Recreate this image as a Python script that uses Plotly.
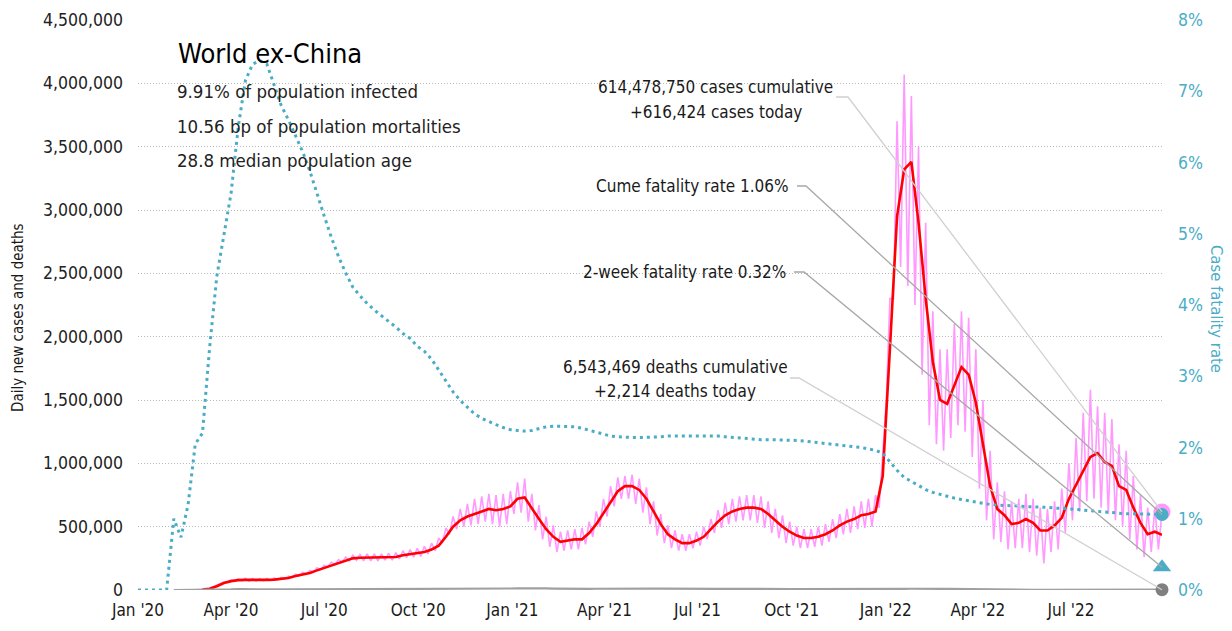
import pandas as pd
import plotly.graph_objects as go

# ---------------- data ----------------
week_start = "2020-01-01"
n_weeks = 144  # weekly samples through 2022-09-28

# 7-day average of daily new cases (thousands); None = not drawn yet
cases_avg_k = [
    None, None, None, None, None, None, None, None, None, 4,
    10, 30, 55, 70, 78, 80, 78, 80, 80, 82,
    88, 95, 110, 120, 135, 155, 175, 195, 215, 235,
    250, 255, 255, 255, 255, 260, 260, 275, 285, 290,
    300, 320, 350, 420, 500, 550, 580, 600, 620, 640,
    630, 640, 660, 720, 730, 640, 560, 480, 420, 380,
    390, 400, 400, 450, 520, 610, 700, 780, 820, 820,
    790, 720, 620, 520, 440, 400, 370, 370, 390, 420,
    480, 540, 590, 620, 640, 650, 650, 640, 600, 550,
    500, 460, 430, 410, 410, 420, 440, 470, 510, 540,
    560, 590, 600, 620, 900, 1900, 2950, 3320, 3380, 2900,
    2300, 1800, 1500, 1470, 1620, 1760, 1700, 1480, 1150, 820,
    640, 590, 520, 530, 560, 530, 470, 470, 510, 570,
    720, 830, 930, 1050, 1080, 1010, 980, 820, 790, 650,
    530, 440, 460, 435,
]

# daily new cases: weekly high and low of the day-to-day swing (thousands)
cases_hi_k = [
    None, None, None, None, None, 0, 0, 1, 2, 6,
    14, 36, 62, 78, 88, 92, 90, 90, 92, 95,
    100, 110, 125, 140, 155, 175, 195, 220, 240, 260,
    275, 280, 285, 285, 285, 290, 295, 310, 320, 330,
    345, 370, 410, 490, 580, 640, 680, 720, 740, 760,
    750, 760, 780, 850, 880, 760, 670, 580, 510, 460,
    470, 480, 490, 540, 620, 720, 820, 890, 900, 910,
    880, 810, 700, 600, 510, 470, 440, 440, 460, 500,
    560, 630, 690, 720, 740, 750, 750, 740, 700, 640,
    590, 540, 500, 480, 480, 500, 520, 560, 600, 640,
    660, 700, 720, 750, 1100, 2300, 3700, 4070, 3900, 3500,
    2900, 2200, 1900, 1900, 2100, 2200, 2150, 1900, 1500, 1100,
    850, 780, 700, 720, 760, 720, 650, 640, 700, 800,
    1000, 1200, 1400, 1580, 1450, 1400, 1350, 1150, 1100, 900,
    750, 650, 650, 616.424,
]
cases_lo_k = [
    None, None, None, None, None, 0, 0, 0, 1, 3,
    8, 25, 50, 65, 72, 72, 70, 70, 72, 75,
    80, 88, 98, 110, 125, 140, 160, 180, 200, 220,
    230, 235, 230, 230, 230, 235, 235, 245, 255, 260,
    265, 285, 310, 370, 440, 480, 500, 510, 520, 540,
    520, 500, 520, 600, 610, 540, 470, 400, 340, 300,
    310, 320, 320, 360, 420, 500, 580, 660, 720, 720,
    680, 610, 520, 430, 370, 330, 310, 310, 330, 350,
    400, 450, 490, 520, 540, 550, 550, 530, 490, 450,
    410, 370, 350, 330, 330, 340, 350, 380, 410, 440,
    450, 480, 490, 500, 650, 1500, 2300, 2550, 2400, 2250,
    1700, 1300, 1150, 1100, 1200, 1300, 1250, 1050, 800, 550,
    400, 380, 320, 330, 330, 300, 270, 210, 300, 320,
    450, 550, 620, 700, 720, 650, 600, 550, 500, 400,
    320, 260, 300, 320,
]

# daily new deaths (thousands)
deaths_k = [
    None, None, None, None, None, 0, 0, 0, 0, 0,
    0.3, 1, 2.5, 4.5, 6.5, 7, 6.5, 6, 5.5, 4.5,
    4.3, 4.2, 4.3, 4.3, 4.4, 4.6, 4.8, 5, 5.3, 5.6,
    5.8, 5.9, 5.8, 5.7, 5.6, 5.5, 5.4, 5.5, 5.6, 5.6,
    5.7, 6, 6.5, 7.3, 8.5, 9.5, 10.5, 11, 11.5, 12,
    12, 12, 12, 13, 14, 14.5, 14, 13, 11.5, 10,
    9, 8.5, 8.5, 9, 10, 11, 12, 13, 13.5, 14,
    13.5, 13, 12, 11, 10, 9, 8, 7.5, 7.5, 7.8,
    8.3, 8.8, 9.3, 9.7, 10, 10, 9.8, 9.5, 9, 8.5,
    8, 7.5, 7, 6.8, 6.8, 6.9, 7, 7.1, 7.1, 7,
    7, 7, 6.8, 6.5, 6.3, 6.5, 7.5, 9, 10, 11,
    11, 10.5, 9.5, 8.5, 7.5, 6.5, 6, 5.5, 4.5, 3.8,
    3.3, 3, 2.5, 2.3, 2.2, 2.1, 2, 1.8, 1.7, 1.8,
    2, 2.2, 2.4, 2.6, 2.7, 2.7, 2.6, 2.5, 2.3, 2.2,
    2.1, 2, 1.9, 2.214,
]

# cumulative case fatality rate (%)
cfr_pct = [
    0, 0, 0, 0, 0, 1.0, 0.74, 1.2, 2.05, 2.2,
    3.4, 4.4, 5.0, 5.57, 6.5, 7.15, 7.38, 7.43, 7.38, 7.08,
    6.8, 6.6, 6.37, 6.15, 5.88, 5.55, 5.25, 4.95, 4.68, 4.45,
    4.25, 4.13, 4.02, 3.93, 3.85, 3.78, 3.69, 3.6, 3.53, 3.42,
    3.35, 3.24, 3.08, 2.93, 2.78, 2.66, 2.56, 2.47, 2.41, 2.36,
    2.32, 2.28, 2.25, 2.24, 2.23, 2.24, 2.27, 2.29, 2.30, 2.30,
    2.30, 2.29, 2.27, 2.24, 2.21, 2.18, 2.16, 2.15, 2.14, 2.14,
    2.14, 2.14, 2.15, 2.15, 2.16, 2.16, 2.16, 2.17, 2.17, 2.17,
    2.17, 2.16, 2.15, 2.14, 2.13, 2.12, 2.12, 2.11, 2.11, 2.11,
    2.10, 2.10, 2.10, 2.09, 2.08, 2.07, 2.06, 2.05, 2.03, 2.02,
    2.01, 2.0, 1.98, 1.96, 1.92, 1.80, 1.68, 1.58, 1.52, 1.46,
    1.41, 1.37, 1.34, 1.31, 1.29, 1.27, 1.25, 1.23, 1.21, 1.20,
    1.19, 1.19, 1.18, 1.18, 1.17, 1.17, 1.16, 1.16, 1.15, 1.15,
    1.14, 1.13, 1.12, 1.11, 1.10, 1.09, 1.08, 1.08, 1.07, 1.07,
    1.07, 1.06, 1.06, 1.06,
]

two_week_cfr_pct = 0.32
cases_today = 616424
deaths_today = 2214

tick_dates = ["2020-01-01", "2020-04-01", "2020-07-01", "2020-10-01",
              "2021-01-01", "2021-04-01", "2021-07-01", "2021-10-01",
              "2022-01-01", "2022-04-01", "2022-07-01"]
tick_labels = ["Jan '20", "Apr '20", "Jul '20", "Oct '20", "Jan '21", "Apr '21",
               "Jul '21", "Oct '21", "Jan '22", "Apr '22", "Jul '22"]

title_text = "World ex-China"
info_lines = ["9.91% of population infected",
              "10.56 bp of population mortalities",
              "28.8 median population age"]

# ---------------- build ----------------
dates = pd.date_range(week_start, periods=n_weeks, freq="7D")
half = pd.Timedelta(hours=84)

pink_x, pink_y = [], []
for i, d in enumerate(dates):
    if cases_hi_k[i] is None:
        continue
    if i > 0 and cases_lo_k[i] is not None and cases_hi_k[i - 1] is not None:
        pink_x.append(d - half)
        pink_y.append(cases_lo_k[i] * 1000)
    pink_x.append(d)
    pink_y.append(cases_hi_k[i] * 1000)


def scale(vals, k=1000):
    return [None if v is None else v * k for v in vals]


FONT = "DejaVu Sans Condensed, Liberation Sans Narrow, Arial Narrow, sans-serif"
TEAL = "#4bacc6"
PINK = "#ff99ff"
INK = "#1a1a1a"

# page body has an 8px margin: figure is sized to fit the 1232x631 window
OFF = 8
W, H = 1232 - OFF, 631 - OFF
PL, PR, PT, PB = 138, 1162, 20, 590          # plot box in screen pixels
L, R, T, B = PL - OFF, W + OFF - PR, PT - OFF, H + OFF - PB
PW, PH = PR - PL, PB - PT
YMAX, Y2MAX = 4_500_000, 8


def px(x):
    return (x - PL) / PW


def py(y):
    return (PB - y) / PH


def ydat(y):
    return py(y) * YMAX


def y2dat(y):
    return py(y) * Y2MAX


fig = go.Figure()
fig.add_trace(go.Scatter(x=pink_x, y=pink_y, mode="lines",
                         line=dict(color=PINK, width=1.6), hoverinfo="skip"))
fig.add_trace(go.Scatter(x=dates, y=scale(cases_avg_k), mode="lines",
                         line=dict(color="#ff0000", width=2.6), hoverinfo="skip"))
fig.add_trace(go.Scatter(x=dates, y=scale(deaths_k), mode="lines",
                         line=dict(color="#a0a0a0", width=2.2), hoverinfo="skip"))
fig.add_trace(go.Scatter(x=dates, y=cfr_pct, mode="lines", yaxis="y2",
                         line=dict(color=TEAL, width=3, dash="3px,4px"), hoverinfo="skip"))

last = dates[-1]
fig.add_trace(go.Scatter(x=[last], y=[cases_today], mode="markers", cliponaxis=False,
                         marker=dict(color=PINK, size=17, line=dict(width=0))))
fig.add_trace(go.Scatter(x=[last], y=[deaths_today], mode="markers", cliponaxis=False,
                         marker=dict(color="#808080", size=13, line=dict(width=0))))
fig.add_trace(go.Scatter(x=[last], y=[cfr_pct[-1]], mode="markers", yaxis="y2", cliponaxis=False,
                         marker=dict(color=TEAL, size=13, line=dict(width=0))))
fig.add_trace(go.Scatter(x=[last], y=[two_week_cfr_pct], mode="markers", yaxis="y2", cliponaxis=False,
                         marker=dict(color=TEAL, size=16, symbol="triangle-up", line=dict(width=0))))

# leader lines
shapes = []


def leader(x0, x1, ystart, yend, yref, color):
    shapes.append(dict(type="path", xref="paper", yref=yref, layer="above",
                       path=f"M {px(x0)},{ystart} L {px(x1)},{ystart} L 1,{yend}",
                       line=dict(color=color, width=1.3)))


leader(836, 848, ydat(97), cases_today, "y", "#d0d0d0")
leader(797, 806, y2dat(186), cfr_pct[-1], "y2", "#a8a8a8")
leader(794, 804, y2dat(272), two_week_cfr_pct, "y2", "#a8a8a8")
leader(790, 799, ydat(378), deaths_today, "y", "#d0d0d0")

ann = []


def text(x, y, s, size, anchor="left", color=INK, angle=0):
    ann.append(dict(x=px(x), y=py(y), xref="paper", yref="paper", text=s, showarrow=False,
                    xanchor=anchor, yanchor="middle", textangle=angle,
                    font=dict(family=FONT, size=size, color=color)))


text(176, 54, title_text, 27, color="#000000")
for yy, s in zip([92, 126, 160], info_lines):
    text(175, yy, s, 18.5, color="#222222")

text(715, 87, "614,478,750 cases cumulative", 17, "center")
text(716, 112, "+616,424 cases today", 17, "center")
text(791, 186, "Cume fatality rate 1.06%", 17, "right")
text(788, 272, "2-week fatality rate 0.32%", 17, "right")
text(675, 367, "6,543,469 deaths cumulative", 17, "center")
text(675, 391, "+2,214 deaths today", 17, "center")

text(18, 318, "Daily new cases and deaths", 15, "center", angle=-90)
text(1217, 309, "Case fatality rate", 16.5, "center", color=TEAL, angle=90)

fig.update_layout(
    width=W, height=H,
    margin=dict(l=L, r=R, t=T, b=B, pad=0),
    paper_bgcolor="white", plot_bgcolor="white",
    showlegend=False,
    font=dict(family=FONT, size=17, color=INK),
    shapes=shapes, annotations=ann,
    xaxis=dict(type="date", range=[dates[0], dates[-1]], tickvals=tick_dates,
               ticktext=tick_labels, showgrid=False, zeroline=False, showline=False,
               ticks="", ticklabelstandoff=8, automargin=False,
               tickfont=dict(family=FONT, size=17, color=INK)),
    yaxis=dict(range=[0, YMAX], dtick=500000, tickformat=",", showgrid=True,
               gridcolor="#b8b8b8", griddash="1px,2px", gridwidth=1, zeroline=False,
               showline=False, ticks="", ticklabelstandoff=14, automargin=False,
               tickfont=dict(family=FONT, size=17.5, color="#222222")),
    yaxis2=dict(range=[0, Y2MAX], dtick=1, ticksuffix="%", overlaying="y", side="right",
                showgrid=False, zeroline=False, showline=False, ticks="",
                ticklabelstandoff=15, automargin=False,
                tickfont=dict(family=FONT, size=17.5, color=TEAL)),
)

fig.write_html("out.html")
